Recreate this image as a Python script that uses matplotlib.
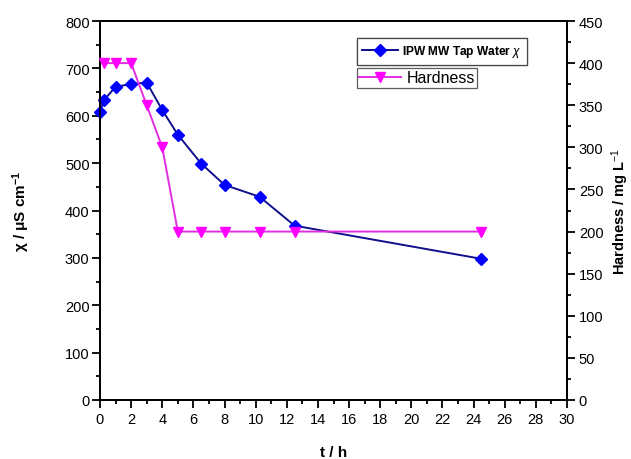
import matplotlib
matplotlib.use("Agg")
import matplotlib.pyplot as plt
from matplotlib.ticker import MultipleLocator

plt.rcParams['font.family'] = ['Liberation Sans', 'DejaVu Sans']
plt.rcParams['mathtext.fontset'] = 'custom'
plt.rcParams['mathtext.rm'] = 'Liberation Sans'
plt.rcParams['mathtext.bf'] = 'Liberation Sans:bold'
plt.rcParams['mathtext.it'] = 'Liberation Sans:italic'

# data
t_chi = [0, 0.25, 1, 2, 3, 4, 5, 6.5, 8, 10.25, 12.5, 24.5]
chi = [608, 633, 661, 667, 670, 612, 560, 499, 454, 429, 368, 298]
t_hard = [0.25, 1, 2, 3, 4, 5, 6.5, 8, 10.25, 12.5, 24.5]
hardness = [400, 400, 400, 350, 300, 200, 200, 200, 200, 200, 200]
x_ticks = list(range(0, 31, 2))
chi_ticks = list(range(0, 801, 100))
hard_ticks = list(range(0, 451, 50))

W, H = 631, 460
fig = plt.figure(figsize=(W / 100, H / 100), dpi=100)
ax = fig.add_axes([100 / W, (H - 401) / H, 467 / W, 379 / H])
ax2 = ax.twinx()

blue_line = '#10108c'
blue_mk = '#0000ff'
mag = '#ff00ff'
mag_line = '#e22ee2'

l1, = ax.plot(t_chi, chi, color=blue_line, lw=1.4, marker='D', ms=6.3,
              mfc=blue_mk, mec=blue_mk, zorder=5, clip_on=False)
l2, = ax2.plot(t_hard, hardness, color=mag_line, lw=1.4, marker='v', ms=7.5,
               mfc=mag, mec=mag, zorder=5, clip_on=False)

ax.set_xlim(0, 30)
ax.set_ylim(0, 800)
ax2.set_ylim(0, 450)
ax.set_xticks(x_ticks)
ax.set_yticks(chi_ticks)
ax2.set_yticks(hard_ticks)
ax.xaxis.set_minor_locator(MultipleLocator(1))
ax.yaxis.set_minor_locator(MultipleLocator(50))
ax2.yaxis.set_minor_locator(MultipleLocator(25))

for a in (ax, ax2):
    for s in a.spines.values():
        s.set_linewidth(1.3)
    a.tick_params(which='major', direction='out', length=5.5, width=1.3,
                  labelsize=10.5, colors='black')
    a.tick_params(which='minor', direction='out', length=3.2, width=1.3)
ax.tick_params(axis='x', pad=3)
ax.tick_params(axis='y', pad=2)
ax2.tick_params(axis='y', pad=3)

ax.set_xlabel('t / h', fontsize=11, fontweight='bold', labelpad=14)
ax.set_ylabel(r'χ / μS cm$^{\mathbf{-1}}$', fontsize=11, fontweight='bold',
              labelpad=24)
ax2.set_ylabel(r'Hardness / mg L$^{-1}$', fontsize=10.5, fontweight='bold',
               labelpad=4)

leg1 = fig.legend([l1], [r'IPW MW Tap Water $\chi$'],
                  loc='upper left', bbox_to_anchor=(357 / W, 1 - 39 / H),
                  frameon=True, fancybox=False, edgecolor='#333333',
                  borderpad=0.45, handlelength=3.0, handletextpad=0.35,
                  borderaxespad=0,
                  prop={'weight': 'bold', 'size': 8.6})
leg1.get_frame().set_linewidth(0.9)
leg2 = fig.legend([l2], ['Hardness'],
                  loc='upper left', bbox_to_anchor=(357 / W, 1 - 69 / H),
                  frameon=True, fancybox=False, edgecolor='#333333',
                  borderpad=0.15, handlelength=2.6, handletextpad=0.35,
                  borderaxespad=0,
                  prop={'size': 11.5})
leg2.get_frame().set_linewidth(0.9)
fig.add_artist(leg1)

fig.savefig('out.png', dpi=100, facecolor='white')
